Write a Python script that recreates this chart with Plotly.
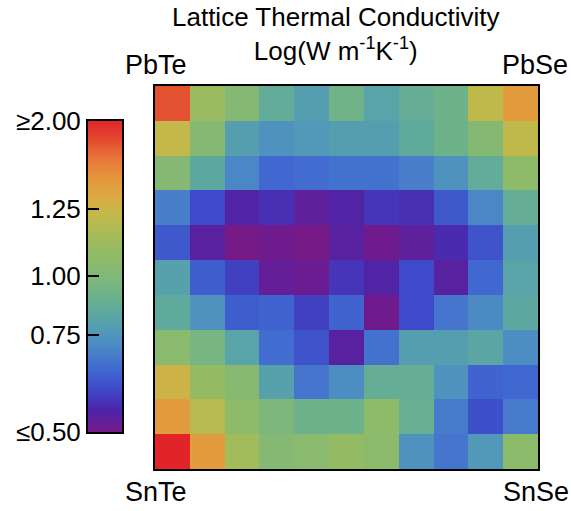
import numpy as np
import plotly.graph_objects as go

# normalized log thermal conductivity (0 -> <=0.50, 1 -> >=2.00), rows top (PbTe-PbSe) to bottom (SnTe-SnSe)
row_00 = [0.93, 0.60, 0.52, 0.40, 0.34, 0.45, 0.36, 0.41, 0.44, 0.69, 0.80]
row_01 = [0.70, 0.52, 0.34, 0.30, 0.32, 0.34, 0.34, 0.39, 0.44, 0.52, 0.69]
row_02 = [0.52, 0.38, 0.27, 0.20, 0.21, 0.22, 0.22, 0.25, 0.30, 0.40, 0.56]
row_03 = [0.25, 0.14, 0.06, 0.09, 0.04, 0.06, 0.10, 0.09, 0.17, 0.27, 0.41]
row_04 = [0.17, 0.05, 0.00, 0.01, 0.00, 0.05, 0.01, 0.04, 0.08, 0.16, 0.34]
row_05 = [0.35, 0.18, 0.12, 0.03, 0.02, 0.10, 0.06, 0.14, 0.05, 0.20, 0.36]
row_06 = [0.39, 0.30, 0.18, 0.19, 0.12, 0.19, 0.01, 0.14, 0.23, 0.28, 0.38]
row_07 = [0.54, 0.47, 0.36, 0.21, 0.16, 0.05, 0.22, 0.34, 0.34, 0.37, 0.29]
row_08 = [0.72, 0.58, 0.53, 0.35, 0.23, 0.29, 0.41, 0.41, 0.30, 0.19, 0.20]
row_09 = [0.80, 0.67, 0.56, 0.49, 0.44, 0.44, 0.56, 0.42, 0.24, 0.15, 0.24]
row_10 = [1.00, 0.80, 0.62, 0.52, 0.54, 0.58, 0.55, 0.30, 0.23, 0.32, 0.55]
grid_rows = [row_00, row_01, row_02, row_03, row_04, row_05, row_06, row_07, row_08, row_09, row_10]

cbar_tickvals = [0.0, 0.312, 0.502, 0.717, 1.0]
cbar_ticktext = ["≤0.50", "0.75", "1.00", "1.25", "≥2.00"]
corner_labels = ["PbTe", "PbSe", "SnTe", "SnSe"]
title_text = "Lattice Thermal Conductivity<br>Log(W m<sup>-1</sup>K<sup>-1</sup>)"

colorscale = [
    [0.00, "#761a88"], [0.07, "#4c24aa"], [0.135, "#3e48c8"], [0.20, "#4068d0"],
    [0.264, "#4a84c8"], [0.312, "#5096bc"], [0.36, "#58a4a8"], [0.424, "#68b090"],
    [0.50, "#80b878"], [0.57, "#90bb66"], [0.65, "#acbb55"], [0.70, "#c4b84a"],
    [0.746, "#d8ac42"], [0.81, "#e4983c"], [0.875, "#e8783a"], [0.94, "#e34a2e"],
    [1.00, "#e0242a"],
]

FONT = "Liberation Sans, Arial, Helvetica, sans-serif"

fig = go.Figure()
fig.add_trace(go.Heatmap(z=grid_rows, coloraxis="coloraxis", xaxis="x", yaxis="y",
                         hoverinfo="skip"))

N = 256
cb_y = (np.arange(N) + 0.5) / N
fig.add_trace(go.Heatmap(z=[[v] for v in cb_y], x=[0], y=cb_y, coloraxis="coloraxis",
                         xaxis="x2", yaxis="y2", hoverinfo="skip"))

W, H = 571, 511
ml, mr, mt, mb = 88, 33, 86, 42
pw, ph = W - ml - mr, H - mt - mb

def px_x(x):
    return (x - ml) / pw

def px_y(y):
    return (H - mb - y) / ph

axis_common = dict(showgrid=False, zeroline=False, showline=True, mirror=True,
                   linecolor="black", linewidth=2)

fig.update_layout(
    width=W, height=H, margin=dict(l=ml, r=mr, t=mt, b=mb),
    paper_bgcolor="white", plot_bgcolor="white",
    coloraxis=dict(colorscale=colorscale, cmin=0, cmax=1, showscale=False),
    xaxis=dict(domain=[px_x(155), 1], range=[-0.5, 10.5], showticklabels=False,
               ticks="", **axis_common),
    yaxis=dict(domain=[0, 1], range=[10.5, -0.5], showticklabels=False,
               ticks="", **axis_common),
    xaxis2=dict(domain=[0, px_x(122)], range=[-0.5, 0.5], showticklabels=False,
                ticks="", anchor="y2", **axis_common),
    yaxis2=dict(domain=[px_y(432), px_y(121)], range=[0, 1], anchor="x2", side="left",
                tickvals=cbar_tickvals, ticktext=cbar_ticktext, ticks="inside",
                ticklen=11, tickwidth=2, tickcolor="black",
                tickfont=dict(family=FONT, size=26, color="black"), **axis_common),
    showlegend=False,
)

annots = [
    (corner_labels[0], 156, 65),
    (corner_labels[1], 535, 65),
    (corner_labels[2], 156, 492),
    (corner_labels[3], 536, 492),
]
for text, x, y in annots:
    fig.add_annotation(text=text, x=px_x(x), y=px_y(y), xref="paper", yref="paper",
                       xanchor="center", yanchor="middle", showarrow=False,
                       font=dict(family=FONT, size=27, color="black"))

fig.add_annotation(text=title_text, x=px_x(336), y=px_y(1), xref="paper", yref="paper",
                   xanchor="center", yanchor="top", showarrow=False, borderpad=0,
                   font=dict(family=FONT, size=26, color="black"))

fig.write_html("out.html")
